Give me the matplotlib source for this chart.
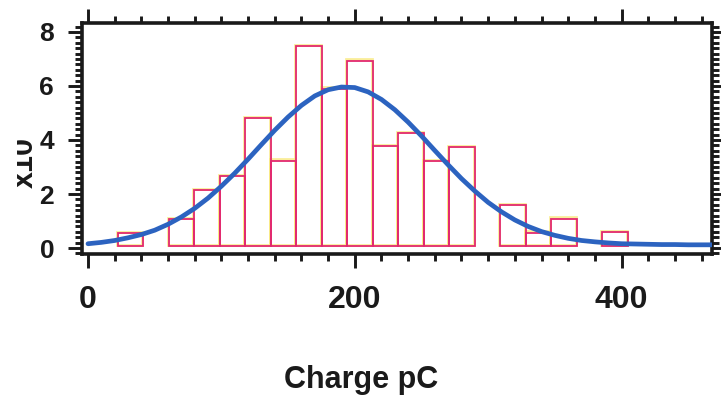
import matplotlib
matplotlib.use("Agg")
import matplotlib.pyplot as plt
from matplotlib.ticker import MultipleLocator
from matplotlib.transforms import ScaledTranslation
from matplotlib.patches import Rectangle

# ---- data ----
bin_start = 22.5          # pC, left edge of first bin
bin_width = 19.1          # pC
counts = [0.46, 0, 1.00, 2.07, 2.59, 4.74, 3.16, 7.40, 5.82, 6.86,
          3.68, 4.17, 3.13, 3.67, 0, 1.51, 0.49, 1.01, 0, 0.52]

fit_x = list(range(0, 471, 10))
fit_y = [0.16, 0.21, 0.28, 0.38, 0.50, 0.66, 0.88, 1.15, 1.47, 1.85,
         2.29, 2.77, 3.29, 3.83, 4.36, 4.85, 5.28, 5.63, 5.86, 5.96,
         5.94, 5.78, 5.50, 5.12, 4.66, 4.15, 3.61, 3.08, 2.57, 2.11,
         1.69, 1.34, 1.04, 0.80, 0.61, 0.47, 0.36, 0.28, 0.23, 0.19,
         0.16, 0.15, 0.14, 0.13, 0.13, 0.12, 0.12, 0.12]

x_ticks = [0, 200, 400]
y_ticks = [0, 2, 4, 6, 8]
x_label = "Charge pC"
y_label = "x10"

# ---- style ----
FONT = ["Liberation Sans", "DejaVu Sans"]
TXT = "#1a1a1a"
EDGE = "#e2296f"
HALO = "#f9e878"
BLUE = "#2c63c0"
BASE = 0.08

plt.rcParams["font.family"] = FONT
plt.rcParams["font.weight"] = "bold"

fig = plt.figure(figsize=(7.21, 3.97), dpi=100)
ax = fig.add_axes([82 / 721, 1 - 254 / 397, (712 - 82) / 721, (254 - 23) / 397])

lefts = [bin_start + i * bin_width for i in range(len(counts))]
sel = [i for i, c in enumerate(counts) if c > 0]
xs = [lefts[i] for i in sel]
hs = [counts[i] for i in sel]

halo_tr = ax.transData + ScaledTranslation(-1.0 / 100, 1.2 / 100, fig.dpi_scale_trans)
ax.bar(xs, hs, width=bin_width, bottom=BASE, align="edge", facecolor="none",
       edgecolor=HALO, linewidth=2.0, transform=halo_tr, zorder=2, alpha=0.75)
ax.bar(xs, hs, width=bin_width, bottom=BASE, align="edge", facecolor="none",
       edgecolor=EDGE, linewidth=1.3, zorder=3)

ax.plot(fit_x, fit_y, color=BLUE, linewidth=3.4, solid_capstyle="round", zorder=4)

ax.set_xlim(-4.5, 467.8)
ax.set_ylim(-0.22, 8.33)
ax.set_xticks(x_ticks)
ax.set_yticks(y_ticks)
ax.xaxis.set_minor_locator(MultipleLocator(20))
ax.yaxis.set_minor_locator(MultipleLocator(0.2))

for s in ax.spines.values():
    s.set_linewidth(2.6)
    s.set_color(TXT)

ax.tick_params(which="both", direction="out", top=True, right=True,
               labeltop=False, labelright=False, color=TXT, width=2.1)
ax.tick_params(which="major", length=10)
ax.tick_params(which="minor", length=5)
ax.tick_params(axis="x", which="major", labelsize=23, pad=12, labelcolor=TXT)
ax.tick_params(axis="y", which="major", labelsize=19, pad=10, labelcolor=TXT)
for lab in ax.get_xticklabels() + ax.get_yticklabels():
    lab.set_fontweight("bold")

fig.text(361 / 721, 1 - 388 / 397, x_label, ha="center", va="baseline",
         fontsize=22, fontweight="bold", color=TXT)
fig.text(33 / 721, 1 - 162 / 397, y_label, rotation=90, rotation_mode="anchor",
         ha="center", va="baseline", fontsize=22, fontweight="bold", color=TXT)
# the scan crops the left edge of the y label
fig.patches.append(Rectangle((0, 0), 17 / 721, 1, transform=fig.transFigure,
                             facecolor="white", edgecolor="none", zorder=10))

fig.savefig("out.png", dpi=100, facecolor="white")
